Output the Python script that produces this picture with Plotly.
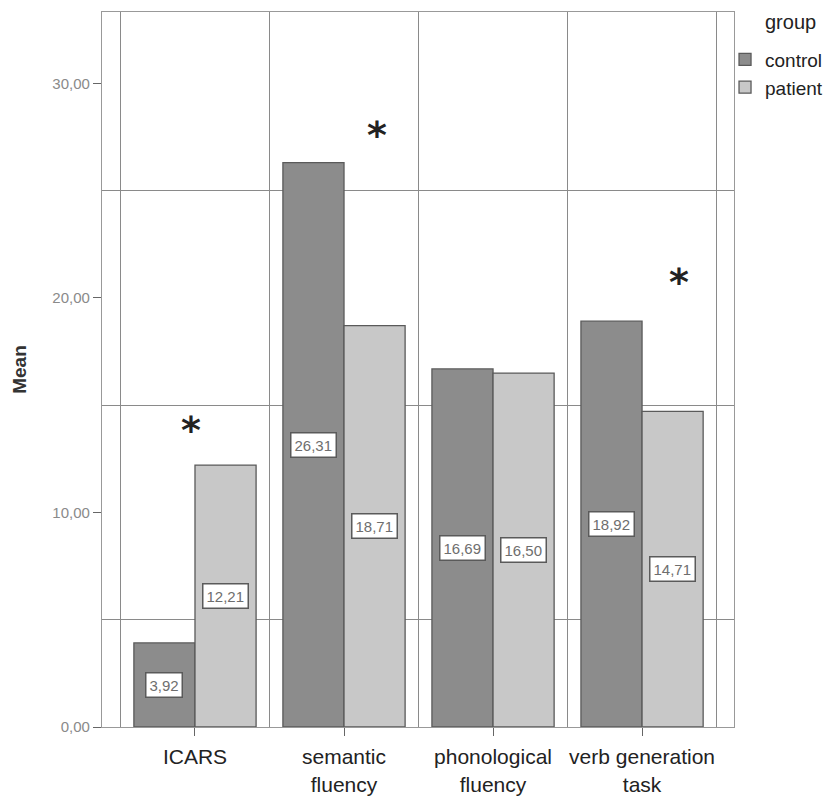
import plotly.graph_objects as go

categories = ["ICARS", "semantic<br>fluency", "phonological<br>fluency", "verb generation<br>task"]
control = [3.92, 26.31, 16.69, 18.92]
patient = [12.21, 18.71, 16.50, 14.71]
series_names = ["control", "patient"]
series_colors = ["#8c8c8c", "#c8c8c8"]
y_ticks = [0, 10, 20, 30]
# significance markers: (category index, x offset within category, y value)
sig_idx = [0, 1, 3]
sig_dx = [-0.03, 0.22, 0.25]
sig_y = [14.2, 27.95, 21.1]

BARGAP = 0.18
x_idx = list(range(len(categories)))

fig = go.Figure()
for name, vals, col in zip(series_names, [control, patient], series_colors):
    fig.add_trace(go.Bar(
        x=x_idx, y=vals, name=name,
        marker=dict(color=col, line=dict(color="#5a5a5a", width=1.3)),
    ))

half = (1 - BARGAP) / 4
annotations = []
for s, vals in enumerate([control, patient]):
    off = -half if s == 0 else half
    for i, v in enumerate(vals):
        annotations.append(dict(
            x=i + off, y=v / 2, xref="x", yref="y",
            text=f"{v:.2f}".replace(".", ","), showarrow=False,
            font=dict(family="Liberation Sans, Arial", size=15, color="#6e6e6e"),
            bgcolor="white", bordercolor="#5a5a5a", borderwidth=1.5, borderpad=3,
        ))
for i, dx, yv in zip(sig_idx, sig_dx, sig_y):
    annotations.append(dict(
        x=i + dx, y=yv, xref="x", yref="y", text="<b>*</b>", showarrow=False,
        font=dict(family="DejaVu Sans", size=38, color="#222"),
        yshift=-8,
    ))
annotations.append(dict(
    x=1.046, y=0.986, xref="paper", yref="paper", xanchor="left", yanchor="middle",
    text="group", showarrow=False,
    font=dict(family="Liberation Sans, Arial", size=20, color="#222"),
))

fig.update_layout(
    width=833, height=802,
    margin=dict(l=102, r=99, t=12, b=75, autoexpand=False),
    paper_bgcolor="white", plot_bgcolor="white",
    separators=",.",
    barmode="group", bargap=BARGAP, bargroupgap=0,
    font=dict(family="Liberation Sans, Arial", color="#222"),
    showlegend=True,
    legend=dict(
        x=0.9858, xanchor="left", y=0.96, yanchor="top",
        font=dict(size=19, color="#222"), bgcolor="rgba(0,0,0,0)",
        itemwidth=30, tracegroupgap=0,
    ),
    annotations=annotations,
    xaxis=dict(
        range=[-0.624, 3.617], tickvals=x_idx, ticktext=categories,
        ticks="outside", ticklen=8, tickcolor="#666", tickwidth=1.2,
        tickfont=dict(size=21, color="#222"), automargin=False, ticklabelstandoff=3,
        showgrid=False, zeroline=False,
        showline=True, mirror=True, linecolor="#999", linewidth=1.3,
        minor=dict(tick0=0.5, dtick=1, showgrid=True, gridcolor="#8a8a8a", gridwidth=1.3, ticks=""),
    ),
    yaxis=dict(
        range=[0, 33.33], tickvals=y_ticks, tickformat=".2f",
        ticks="outside", ticklen=8, tickcolor="#666", tickwidth=1.2,
        tickfont=dict(size=15, color="#8a8a8a"), automargin=False,
        showgrid=False, zeroline=False,
        showline=True, mirror=True, linecolor="#999", linewidth=1.3,
        minor=dict(tick0=5, dtick=10, showgrid=True, gridcolor="#8a8a8a", gridwidth=1.3, ticks=""),
        title=dict(text="<b>Mean</b>", font=dict(size=19, color="#333"), standoff=20),
    ),
)

fig.write_html("out.html", config={"displayModeBar": False},
               post_script="document.body.style.margin='0';")
